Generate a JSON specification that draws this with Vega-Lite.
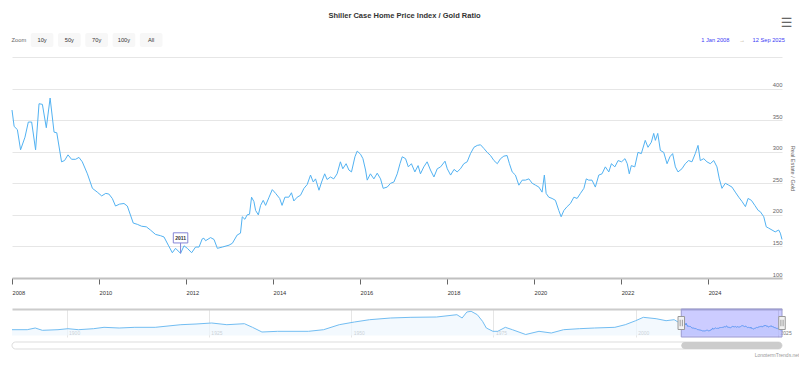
{
  "$schema": "https://vega.github.io/schema/vega-lite/v6.json",
  "background": "white",
  "padding": {"left": 10, "top": 11, "right": 0, "bottom": 0},
  "config": {
    "font": "Liberation Sans",
    "view": {"stroke": null},
    "title": {"font": "Liberation Sans"},
    "axis": {"labelFont": "Liberation Sans", "titleFont": "Liberation Sans"}
  },
  "title": {"text": "Shiller Case Home Price Index / Gold Ratio", "fontSize": 7.5, "fontWeight": "bold", "color": "#333333", "anchor": "middle", "offset": -2},
  "datasets": {
    "main": [
      {"date": "2008-01-01", "ratio": 366}, {"date": "2008-01-19", "ratio": 340}, {"date": "2008-02-15", "ratio": 335}, {"date": "2008-03-13", "ratio": 303},
      {"date": "2008-04-19", "ratio": 323}, {"date": "2008-05-17", "ratio": 347}, {"date": "2008-06-14", "ratio": 347}, {"date": "2008-07-17", "ratio": 303},
      {"date": "2008-08-15", "ratio": 376}, {"date": "2008-09-12", "ratio": 375}, {"date": "2008-10-15", "ratio": 338}, {"date": "2008-11-16", "ratio": 385},
      {"date": "2008-12-19", "ratio": 331}, {"date": "2009-01-11", "ratio": 330}, {"date": "2009-02-20", "ratio": 284}, {"date": "2009-03-17", "ratio": 286},
      {"date": "2009-04-15", "ratio": 295}, {"date": "2009-05-15", "ratio": 288}, {"date": "2009-06-18", "ratio": 288}, {"date": "2009-07-16", "ratio": 291},
      {"date": "2009-08-13", "ratio": 284}, {"date": "2009-09-25", "ratio": 265}, {"date": "2009-11-06", "ratio": 242}, {"date": "2009-12-17", "ratio": 236},
      {"date": "2010-01-23", "ratio": 230}, {"date": "2010-02-26", "ratio": 234}, {"date": "2010-03-24", "ratio": 233}, {"date": "2010-04-22", "ratio": 226},
      {"date": "2010-05-19", "ratio": 214}, {"date": "2010-06-22", "ratio": 217}, {"date": "2010-07-29", "ratio": 218}, {"date": "2010-08-26", "ratio": 214},
      {"date": "2010-10-15", "ratio": 187}, {"date": "2010-11-18", "ratio": 185}, {"date": "2010-12-24", "ratio": 182}, {"date": "2011-02-02", "ratio": 181},
      {"date": "2011-03-08", "ratio": 176}, {"date": "2011-04-20", "ratio": 169}, {"date": "2011-06-01", "ratio": 167}, {"date": "2011-06-30", "ratio": 165},
      {"date": "2011-08-05", "ratio": 152}, {"date": "2011-09-08", "ratio": 140}, {"date": "2011-10-05", "ratio": 147}, {"date": "2011-11-16", "ratio": 139},
      {"date": "2011-12-15", "ratio": 151}, {"date": "2012-01-12", "ratio": 147}, {"date": "2012-02-17", "ratio": 140}, {"date": "2012-03-21", "ratio": 149},
      {"date": "2012-04-19", "ratio": 149}, {"date": "2012-05-16", "ratio": 162}, {"date": "2012-05-30", "ratio": 163}, {"date": "2012-06-13", "ratio": 159},
      {"date": "2012-07-25", "ratio": 164}, {"date": "2012-08-23", "ratio": 161}, {"date": "2012-09-20", "ratio": 147}, {"date": "2012-11-01", "ratio": 149},
      {"date": "2012-12-27", "ratio": 152}, {"date": "2013-01-24", "ratio": 155}, {"date": "2013-03-05", "ratio": 168}, {"date": "2013-04-02", "ratio": 171},
      {"date": "2013-04-17", "ratio": 197}, {"date": "2013-05-09", "ratio": 193}, {"date": "2013-05-28", "ratio": 200}, {"date": "2013-06-17", "ratio": 201},
      {"date": "2013-07-04", "ratio": 228}, {"date": "2013-07-24", "ratio": 221}, {"date": "2013-08-07", "ratio": 207}, {"date": "2013-08-30", "ratio": 200},
      {"date": "2013-09-18", "ratio": 215}, {"date": "2013-10-10", "ratio": 223}, {"date": "2013-10-30", "ratio": 215}, {"date": "2013-11-28", "ratio": 228},
      {"date": "2013-12-25", "ratio": 240}, {"date": "2014-01-22", "ratio": 234}, {"date": "2014-02-25", "ratio": 226}, {"date": "2014-03-17", "ratio": 215},
      {"date": "2014-04-10", "ratio": 228}, {"date": "2014-05-13", "ratio": 228}, {"date": "2014-06-04", "ratio": 235}, {"date": "2014-06-24", "ratio": 222},
      {"date": "2014-07-22", "ratio": 228}, {"date": "2014-08-19", "ratio": 231}, {"date": "2014-09-17", "ratio": 242}, {"date": "2014-10-14", "ratio": 248},
      {"date": "2014-11-11", "ratio": 263}, {"date": "2014-12-04", "ratio": 252}, {"date": "2014-12-23", "ratio": 257}, {"date": "2015-01-21", "ratio": 239},
      {"date": "2015-02-12", "ratio": 252}, {"date": "2015-03-10", "ratio": 265}, {"date": "2015-03-30", "ratio": 256}, {"date": "2015-04-27", "ratio": 260},
      {"date": "2015-05-25", "ratio": 257}, {"date": "2015-06-22", "ratio": 265}, {"date": "2015-07-20", "ratio": 284}, {"date": "2015-08-09", "ratio": 273},
      {"date": "2015-09-06", "ratio": 281}, {"date": "2015-09-29", "ratio": 271}, {"date": "2015-10-21", "ratio": 268}, {"date": "2015-11-19", "ratio": 292},
      {"date": "2015-12-08", "ratio": 301}, {"date": "2016-01-05", "ratio": 296}, {"date": "2016-01-25", "ratio": 289}, {"date": "2016-02-16", "ratio": 271},
      {"date": "2016-03-01", "ratio": 255}, {"date": "2016-03-28", "ratio": 265}, {"date": "2016-04-26", "ratio": 257}, {"date": "2016-05-24", "ratio": 266},
      {"date": "2016-06-21", "ratio": 257}, {"date": "2016-07-13", "ratio": 242}, {"date": "2016-08-16", "ratio": 244}, {"date": "2016-09-13", "ratio": 250},
      {"date": "2016-10-11", "ratio": 252}, {"date": "2016-11-08", "ratio": 265}, {"date": "2016-12-01", "ratio": 281}, {"date": "2016-12-20", "ratio": 292},
      {"date": "2017-01-17", "ratio": 289}, {"date": "2017-02-09", "ratio": 276}, {"date": "2017-03-07", "ratio": 281}, {"date": "2017-04-05", "ratio": 268},
      {"date": "2017-05-02", "ratio": 278}, {"date": "2017-05-22", "ratio": 265}, {"date": "2017-06-19", "ratio": 276}, {"date": "2017-07-17", "ratio": 284},
      {"date": "2017-08-14", "ratio": 271}, {"date": "2017-09-12", "ratio": 260}, {"date": "2017-10-10", "ratio": 273}, {"date": "2017-11-07", "ratio": 276},
      {"date": "2017-12-14", "ratio": 285}, {"date": "2018-01-02", "ratio": 273}, {"date": "2018-01-30", "ratio": 263}, {"date": "2018-02-28", "ratio": 272},
      {"date": "2018-03-26", "ratio": 268}, {"date": "2018-04-23", "ratio": 273}, {"date": "2018-05-21", "ratio": 281}, {"date": "2018-06-18", "ratio": 284},
      {"date": "2018-07-16", "ratio": 297}, {"date": "2018-08-14", "ratio": 307}, {"date": "2018-09-11", "ratio": 310}, {"date": "2018-10-08", "ratio": 311},
      {"date": "2018-11-06", "ratio": 305}, {"date": "2018-12-03", "ratio": 299}, {"date": "2018-12-31", "ratio": 294}, {"date": "2019-01-29", "ratio": 286},
      {"date": "2019-02-26", "ratio": 281}, {"date": "2019-03-25", "ratio": 289}, {"date": "2019-04-22", "ratio": 293}, {"date": "2019-05-19", "ratio": 294},
      {"date": "2019-06-08", "ratio": 281}, {"date": "2019-07-01", "ratio": 268}, {"date": "2019-07-28", "ratio": 263}, {"date": "2019-08-26", "ratio": 247},
      {"date": "2019-09-23", "ratio": 255}, {"date": "2019-10-20", "ratio": 255}, {"date": "2019-11-18", "ratio": 257}, {"date": "2019-12-16", "ratio": 250},
      {"date": "2020-01-13", "ratio": 247}, {"date": "2020-02-10", "ratio": 244}, {"date": "2020-03-08", "ratio": 236}, {"date": "2020-03-27", "ratio": 263},
      {"date": "2020-04-11", "ratio": 234}, {"date": "2020-05-03", "ratio": 228}, {"date": "2020-05-31", "ratio": 226}, {"date": "2020-06-28", "ratio": 223},
      {"date": "2020-07-26", "ratio": 207}, {"date": "2020-08-15", "ratio": 197}, {"date": "2020-09-07", "ratio": 207}, {"date": "2020-10-04", "ratio": 213},
      {"date": "2020-11-01", "ratio": 218}, {"date": "2020-11-30", "ratio": 228}, {"date": "2020-12-27", "ratio": 226}, {"date": "2021-01-24", "ratio": 234},
      {"date": "2021-02-22", "ratio": 242}, {"date": "2021-03-14", "ratio": 257}, {"date": "2021-04-03", "ratio": 255}, {"date": "2021-05-01", "ratio": 255},
      {"date": "2021-05-29", "ratio": 244}, {"date": "2021-06-27", "ratio": 263}, {"date": "2021-07-24", "ratio": 265}, {"date": "2021-08-21", "ratio": 276},
      {"date": "2021-09-19", "ratio": 268}, {"date": "2021-10-11", "ratio": 281}, {"date": "2021-11-09", "ratio": 276}, {"date": "2021-12-06", "ratio": 286},
      {"date": "2022-01-04", "ratio": 284}, {"date": "2022-02-02", "ratio": 289}, {"date": "2022-02-21", "ratio": 281}, {"date": "2022-03-10", "ratio": 265},
      {"date": "2022-03-27", "ratio": 278}, {"date": "2022-04-25", "ratio": 276}, {"date": "2022-05-22", "ratio": 299}, {"date": "2022-06-19", "ratio": 297},
      {"date": "2022-07-22", "ratio": 318}, {"date": "2022-08-14", "ratio": 307}, {"date": "2022-09-11", "ratio": 315}, {"date": "2022-10-01", "ratio": 329},
      {"date": "2022-10-15", "ratio": 318}, {"date": "2022-11-04", "ratio": 329}, {"date": "2022-11-26", "ratio": 302}, {"date": "2022-12-24", "ratio": 299},
      {"date": "2023-01-21", "ratio": 281}, {"date": "2023-02-14", "ratio": 292}, {"date": "2023-03-09", "ratio": 297}, {"date": "2023-04-01", "ratio": 276},
      {"date": "2023-04-23", "ratio": 268}, {"date": "2023-05-26", "ratio": 273}, {"date": "2023-06-23", "ratio": 281}, {"date": "2023-07-21", "ratio": 286},
      {"date": "2023-08-18", "ratio": 284}, {"date": "2023-09-15", "ratio": 297}, {"date": "2023-10-08", "ratio": 310}, {"date": "2023-10-27", "ratio": 286},
      {"date": "2023-11-25", "ratio": 289}, {"date": "2023-12-22", "ratio": 284}, {"date": "2024-01-19", "ratio": 281}, {"date": "2024-02-17", "ratio": 286},
      {"date": "2024-03-15", "ratio": 276}, {"date": "2024-04-04", "ratio": 257}, {"date": "2024-04-26", "ratio": 242}, {"date": "2024-05-24", "ratio": 250},
      {"date": "2024-06-22", "ratio": 247}, {"date": "2024-07-19", "ratio": 244}, {"date": "2024-08-16", "ratio": 236}, {"date": "2024-09-14", "ratio": 228},
      {"date": "2024-10-12", "ratio": 221}, {"date": "2024-11-09", "ratio": 213}, {"date": "2024-12-01", "ratio": 226}, {"date": "2024-12-29", "ratio": 223},
      {"date": "2025-01-27", "ratio": 215}, {"date": "2025-02-24", "ratio": 207}, {"date": "2025-03-14", "ratio": 205}, {"date": "2025-04-12", "ratio": 197},
      {"date": "2025-05-03", "ratio": 181}, {"date": "2025-05-23", "ratio": 179}, {"date": "2025-06-20", "ratio": 176}, {"date": "2025-07-17", "ratio": 173},
      {"date": "2025-08-15", "ratio": 176}, {"date": "2025-08-29", "ratio": 171}, {"date": "2025-09-12", "ratio": 161}
    ],
    "history": [
      {"date": "1890-06-01", "ratio": 182}, {"date": "1893-02-01", "ratio": 182}, {"date": "1894-07-01", "ratio": 236}, {"date": "1895-10-01", "ratio": 162},
      {"date": "1898-07-01", "ratio": 182}, {"date": "1900-04-01", "ratio": 214}, {"date": "1902-02-01", "ratio": 182}, {"date": "1904-10-01", "ratio": 214},
      {"date": "1906-08-01", "ratio": 258}, {"date": "1909-04-01", "ratio": 236}, {"date": "1912-01-01", "ratio": 258}, {"date": "1915-08-01", "ratio": 258},
      {"date": "1920-02-01", "ratio": 342}, {"date": "1922-10-01", "ratio": 364}, {"date": "1925-07-01", "ratio": 396}, {"date": "1928-03-01", "ratio": 342},
      {"date": "1931-04-01", "ratio": 374}, {"date": "1932-09-01", "ratio": 258}, {"date": "1934-05-01", "ratio": 108}, {"date": "1937-02-01", "ratio": 130},
      {"date": "1942-07-01", "ratio": 130}, {"date": "1945-03-01", "ratio": 182}, {"date": "1947-12-01", "ratio": 342}, {"date": "1950-08-01", "ratio": 428},
      {"date": "1953-04-01", "ratio": 502}, {"date": "1956-12-01", "ratio": 556}, {"date": "1960-07-01", "ratio": 578}, {"date": "1965-01-01", "ratio": 588},
      {"date": "1968-08-01", "ratio": 662}, {"date": "1969-07-01", "ratio": 556}, {"date": "1970-05-01", "ratio": 748}, {"date": "1971-02-01", "ratio": 770},
      {"date": "1972-03-01", "ratio": 662}, {"date": "1973-02-01", "ratio": 450}, {"date": "1973-10-01", "ratio": 236}, {"date": "1974-12-01", "ratio": 130},
      {"date": "1975-10-01", "ratio": 130}, {"date": "1977-02-01", "ratio": 258}, {"date": "1978-05-01", "ratio": 182}, {"date": "1980-09-01", "ratio": 28},
      {"date": "1983-01-01", "ratio": 130}, {"date": "1985-03-01", "ratio": 76}, {"date": "1987-05-01", "ratio": 182}, {"date": "1990-02-01", "ratio": 214},
      {"date": "1992-10-01", "ratio": 236}, {"date": "1996-05-01", "ratio": 258}, {"date": "1998-03-01", "ratio": 342}, {"date": "2000-01-01", "ratio": 470},
      {"date": "2001-05-01", "ratio": 578}, {"date": "2003-08-01", "ratio": 534}, {"date": "2005-05-01", "ratio": 470}, {"date": "2006-10-01", "ratio": 502},
      {"date": "2008-01-01", "ratio": 366}
    ],
    "selected": [{"start": "2008-01-01", "end": "2025-09-12"}],
    "fullrange": [{"start": "1890-06-01", "end": "2025-09-12"}],
    "flags": [{"date": "2011-11-16", "ratio": 139, "label": "2011"}],
    "buttons": [
      {"label": "Zoom", "kind": "caption"}, {"label": "10y", "kind": "button"}, {"label": "50y", "kind": "button"},
      {"label": "70y", "kind": "button"}, {"label": "100y", "kind": "button"}, {"label": "All", "kind": "button"}
    ],
    "dates": [{"text": "1 Jan 2008", "part": "from"}, {"text": "→", "part": "arrow"}, {"text": "12 Sep 2025", "part": "to"}],
    "menu": [{"icon": "☰", "part": "to"}]
  },
  "spacing": 10,
  "vconcat": [
    {
      "width": 770,
      "height": 14,
      "resolve": {"scale": {"x": "independent"}},
      "layer": [
        {
          "data": {"name": "buttons"},
          "encoding": {
            "x": {"field": "label", "type": "nominal", "sort": null, "axis": null,
                  "scale": {"domain": ["Zoom", "10y", "50y", "70y", "100y", "All"], "range": [-8.5, 150.5], "paddingInner": 0.17, "paddingOuter": 0}}
          },
          "layer": [
            {
              "transform": [{"filter": "datum.kind == 'button'"}],
              "mark": {"type": "bar", "fill": "#f7f7f7", "cornerRadius": 2}
            },
            {
              "transform": [{"filter": "datum.kind == 'button'"}],
              "mark": {"type": "text", "fontSize": 5.7, "color": "#333333", "baseline": "middle"},
              "encoding": {"text": {"field": "label"}}
            },
            {
              "transform": [{"filter": "datum.kind == 'caption'"}],
              "mark": {"type": "text", "fontSize": 5.7, "color": "#666666", "align": "right", "baseline": "middle"},
              "encoding": {
                "x": {"field": "label", "type": "nominal", "sort": null, "axis": null, "bandPosition": 1},
                "text": {"field": "label"}
              }
            }
          ]
        },
        {
          "encoding": {
            "x": {"field": "part", "type": "nominal", "sort": null, "axis": null,
                  "scale": {"domain": ["from", "arrow", "to"], "range": [690, 770], "paddingInner": 0, "paddingOuter": 0}}
          },
          "layer": [
            {
              "data": {"name": "dates"},
              "mark": {"type": "text", "fontSize": 5.7, "baseline": "middle"},
              "encoding": {
                "color": {"field": "part", "type": "nominal", "legend": null, "scale": {"domain": ["from", "arrow", "to"], "range": ["#3b3bf5", "#b0a080", "#3b3bf5"]}},
                "text": {"field": "text"}
              }
            },
            {
              "data": {"name": "menu"},
              "mark": {"type": "text", "font": "DejaVu Sans", "fontSize": 13, "color": "#666666", "baseline": "middle", "dx": 18, "dy": -17},
              "encoding": {"text": {"field": "icon"}}
            }
          ]
        }
      ]
    },
    {
      "spacing": 13,
      "vconcat": [
        {
          "width": 770,
          "height": 221,
          "resolve": {"axis": {"x": "independent"}},
          "encoding": {
            "y": {"field": "ratio", "type": "quantitative",
                  "scale": {"domain": [100, 450], "nice": false, "zero": false},
                  "axis": {"orient": "right", "values": [100, 150, 200, 250, 300, 350, 400],
                           "grid": true, "gridColor": "#e6e6e6", "gridWidth": 1, "domain": false, "ticks": false, "tickSize": 0,
                           "labelAlign": "right", "labelPadding": 0, "labelBaseline": "alphabetic", "labelOffset": -2,
                           "labelFontSize": 5.8, "labelColor": "#666666", "labelOverlap": false, "labelFlush": false,
                           "title": "Real Estate / Gold", "titleFontSize": 5.6, "titleFontWeight": "normal", "titleColor": "#666666",
                           "titleAngle": 90, "titleX": 10, "titleY": 111, "titleAlign": "center", "titleBaseline": "middle"}}
          },
          "layer": [
            {
              "data": {"name": "main"},
              "mark": {"type": "line", "color": "#52b2f2", "strokeWidth": 1},
              "encoding": {
                "x": {"field": "date", "type": "temporal",
                      "scale": {"type": "utc", "domain": [{"year": 2008, "month": 1, "date": 1, "utc": true}, {"year": 2025, "month": 9, "date": 12, "utc": true}]},
                      "axis": {"orient": "bottom", "format": "%Y", "tickCount": {"interval": "year", "step": 2}, "grid": false,
                               "domainColor": "#c0c0c0", "domainWidth": 2, "tickColor": "#666666", "tickSize": 6, "tickWidth": 1,
                               "labelAlign": "left", "labelPadding": 5, "labelFontSize": 5.7, "labelColor": "#333333", "labelFlush": false,
                               "labelOverlap": false, "title": null}}
              }
            },
            {
              "data": {"name": "flags"},
              "mark": {"type": "rule", "color": "#8585d6", "strokeWidth": 1, "y2Offset": -11},
              "encoding": {
                "x": {"field": "date", "type": "temporal",
                      "axis": {"orient": "top", "labels": false, "ticks": false, "grid": false, "domain": true, "domainColor": "#e6e6e6", "domainWidth": 1, "title": null}},
                "y2": {"field": "ratio"}
              }
            },
            {
              "data": {"name": "flags"},
              "mark": {"type": "point", "shape": "M-1,-0.7H1V0.7H-1Z", "size": 210, "filled": true, "fill": "white", "stroke": "#8585d6", "strokeWidth": 1, "opacity": 1, "yOffset": -15.5},
              "encoding": {"x": {"field": "date", "type": "temporal", "axis": null}}
            },
            {
              "data": {"name": "flags"},
              "mark": {"type": "text", "fontSize": 5, "fontWeight": "bold", "color": "#333333", "baseline": "middle", "dy": -15.5},
              "encoding": {"x": {"field": "date", "type": "temporal", "axis": null}, "text": {"field": "label"}}
            }
          ]
        },
        {
          "spacing": 3,
          "vconcat": [
            {
              "width": 770,
              "height": 28,
              "resolve": {"axis": {"x": "independent"}},
              "layer": [
                {
                  "data": {"name": "history"},
                  "mark": {"type": "area", "color": "#eef6fd", "line": {"color": "#72bdf2", "strokeWidth": 1}},
                  "encoding": {
                    "x": {"field": "date", "type": "temporal",
                          "scale": {"type": "utc", "domain": [{"year": 1890, "month": 6, "date": 1, "utc": true}, {"year": 2025, "month": 9, "date": 12, "utc": true}]},
                          "axis": {"orient": "bottom", "values": [{"year": 1900, "utc": true}, {"year": 1925, "utc": true}, {"year": 1950, "utc": true}, {"year": 1975, "utc": true}, {"year": 2000, "utc": true}, {"year": 2025, "utc": true}],
                                   "format": "%Y", "grid": true, "gridColor": "#e6e6e6", "domain": false, "ticks": false, "tickSize": 0,
                                   "labelAlign": "left", "labelBaseline": "bottom", "labelPadding": -2, "labelOffset": 2,
                                   "labelFontSize": 5, "labelColor": "#777777", "labelFlush": false, "labelOverlap": false, "title": null}},
                    "y": {"field": "ratio", "type": "quantitative", "scale": {"domain": [-52, 844], "nice": false, "zero": false}, "axis": null}
                  }
                },
                {
                  "data": {"name": "main"},
                  "mark": {"type": "area", "color": "#eef6fd", "line": {"color": "#72bdf2", "strokeWidth": 1}},
                  "encoding": {
                    "x": {"field": "date", "type": "temporal",
                          "axis": {"orient": "top", "labels": false, "ticks": false, "grid": false, "domain": true, "domainColor": "#cccccc", "domainWidth": 2, "title": null}},
                    "y": {"field": "ratio", "type": "quantitative"}
                  }
                },
                {
                  "data": {"name": "selected"},
                  "mark": {"type": "rect", "fill": "#0000ff", "fillOpacity": 0.2, "stroke": "#9a9ad0", "strokeWidth": 1},
                  "encoding": {
                    "x": {"field": "start", "type": "temporal", "axis": null},
                    "x2": {"field": "end"}
                  }
                },
                {
                  "data": {"name": "selected"},
                  "transform": [{"fold": ["start", "end"], "as": ["edge", "when"]}],
                  "mark": {"type": "point", "shape": "M-0.5,-1H0.5V1H-0.5ZM-0.17,-0.5V0.5M0.17,-0.5V0.5", "size": 169, "filled": true, "fill": "#f2f2f2", "stroke": "#999999", "strokeWidth": 1, "opacity": 1},
                  "encoding": {
                    "x": {"field": "when", "type": "temporal", "axis": null}
                  }
                }
              ]
            },
            {
              "width": 770,
              "height": 7,
              "layer": [
                {
                  "data": {"name": "fullrange"},
                  "mark": {"type": "rect", "fill": "#ffffff", "stroke": "#dddddd", "strokeWidth": 1, "cornerRadius": 3.5},
                  "encoding": {
                    "x": {"field": "start", "type": "temporal",
                          "scale": {"type": "utc", "domain": [{"year": 1890, "month": 6, "date": 1, "utc": true}, {"year": 2025, "month": 9, "date": 12, "utc": true}]},
                          "axis": {"orient": "bottom", "labels": false, "ticks": false, "domain": false, "grid": false,
                                   "title": "LongtermTrends.net", "titleFontSize": 5, "titleFontWeight": "normal", "titleColor": "#999999",
                                   "titleAlign": "right", "titleBaseline": "top", "titleX": 787, "titleY": 3}},
                    "x2": {"field": "end"}
                  }
                },
                {
                  "data": {"name": "selected"},
                  "mark": {"type": "rect", "fill": "#cccccc", "cornerRadius": 3.5},
                  "encoding": {
                    "x": {"field": "start", "type": "temporal"},
                    "x2": {"field": "end"}
                  }
                }
              ]
            }
          ]
        }
      ]
    }
  ]
}
